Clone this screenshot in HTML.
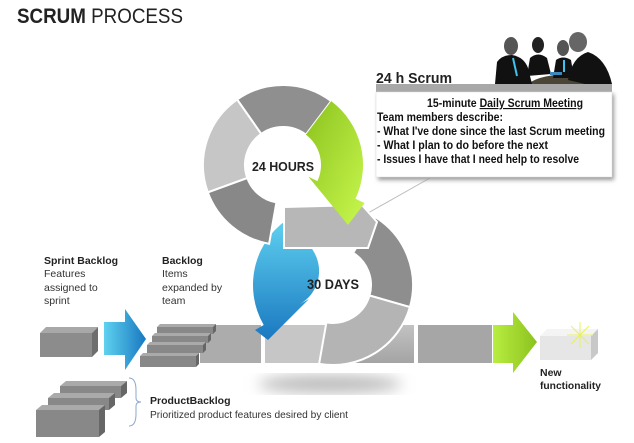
<!DOCTYPE html>
<html><head><meta charset="utf-8"><style>
html,body{margin:0;padding:0;background:#fff;width:634px;height:443px;overflow:hidden}
svg{display:block}
text{font-family:"Liberation Sans",sans-serif}
</style></head><body>
<svg width="634" height="443" viewBox="0 0 634 443" xmlns="http://www.w3.org/2000/svg">
<defs>
<linearGradient id="gG" x1="0" y1="0" x2="1" y2="1"><stop offset="0" stop-color="#8cc21e"/><stop offset="1" stop-color="#c8f84e"/></linearGradient>
<linearGradient id="gG2" x1="0" y1="0" x2="1" y2="0"><stop offset="0" stop-color="#b8ee40"/><stop offset="1" stop-color="#8cc21e"/></linearGradient>
<linearGradient id="gB" x1="0" y1="0" x2="0" y2="1"><stop offset="0" stop-color="#62d4f2"/><stop offset="1" stop-color="#1a78c0"/></linearGradient>
<linearGradient id="gB2" x1="0" y1="0" x2="1" y2="0"><stop offset="0" stop-color="#5fd2f0"/><stop offset="1" stop-color="#1878c0"/></linearGradient>
<linearGradient id="gBar" x1="0" y1="0" x2="0" y2="1"><stop offset="0" stop-color="#c2c2c2"/><stop offset="1" stop-color="#a4a4a4"/></linearGradient>
<filter id="bl"><feGaussianBlur stdDeviation="7"/></filter>
<filter id="sh"><feGaussianBlur stdDeviation="2"/></filter>
</defs>

<text x="17" y="23" font-size="21" fill="#222" textLength="166" lengthAdjust="spacingAndGlyphs"><tspan font-weight="bold">SCRUM</tspan> PROCESS</text>

<ellipse cx="330" cy="384" rx="72" ry="9" fill="#bbb" filter="url(#bl)"/>

<rect x="200" y="325" width="61" height="38" fill="#acacac"/>
<rect x="265" y="325" width="70" height="38" fill="#c6c6c6"/>
<rect x="338" y="325" width="76" height="38" fill="url(#gBar)"/>
<rect x="418" y="325" width="74" height="38" fill="#a6a6a6"/>

<path d="M375.4,217.2 A80,80 0 0 1 409.9,307.1 L369.5,295.5 A38,38 0 0 0 353.1,252.8 Z" fill="#8e8e8e" stroke="#fff" stroke-width="2"/>
<path d="M409.9,307.1 A80,80 0 0 1 319.1,363.8 L326.4,322.4 A38,38 0 0 0 369.5,295.5 Z" fill="#b4b4b4" stroke="#fff" stroke-width="2"/>
<path d="M293,215.7 A80,80 0 0 0 263.7,325 L255,330 L268,340 L309,299 L300.1,304 A38,38 0 0 0 314,252.1 Z" fill="url(#gB)"/>

<path d="M237.1,99.5 A80,80 0 0 1 331.2,101.1 L305.9,134.6 A38,38 0 0 0 261.2,133.9 Z" fill="#8f8f8f" stroke="#fff" stroke-width="2"/>
<path d="M207.8,192.4 A80,80 0 0 1 237.1,99.5 L261.2,133.9 A38,38 0 0 0 247.3,178 Z" fill="#c6c6c6" stroke="#fff" stroke-width="2"/>
<path d="M269.1,243.8 A80,80 0 0 1 207.8,192.4 L247.3,178 A38,38 0 0 0 276.4,202.4 Z" fill="#888" stroke="#fff" stroke-width="2"/>

<line x1="430" y1="178" x2="368" y2="213" stroke="#bbb" stroke-width="1"/>
<polygon points="284,207 362,205 377,222 368,248 284,248" fill="#b7b7b7" stroke="#fff" stroke-width="2"/>
<path d="M331.2,101.1 A80,80 0 0 1 355.5,198.8 L364.6,203.1 L348,225 L308.4,176.8 L317.4,181.1 A38,38 0 0 0 305.9,134.6 Z" fill="url(#gG)"/>

<text x="283" y="171" font-size="13" font-weight="bold" fill="#222" text-anchor="middle" textLength="62" lengthAdjust="spacingAndGlyphs">24 HOURS</text>
<text x="333" y="289" font-size="14" font-weight="bold" fill="#222" text-anchor="middle" textLength="52" lengthAdjust="spacingAndGlyphs">30 DAYS</text>

<polygon points="40,333 46,327 98,327 92,333" fill="#a8a8a8"/>
<rect x="40" y="333" width="52" height="24" fill="#8c8c8c"/>
<polygon points="92,333 98,327 98,351 92,357" fill="#6e6e6e"/>

<polygon points="104,322 125,322 125,309 146,339 125,370 125,355 104,355" fill="url(#gB2)"/>

<g>
<polygon points="157,327 160,324 216,324 213,327" fill="#aaa"/><rect x="157" y="327" width="56" height="7" fill="#888"/><polygon points="213,327 216,324 216,331 213,334" fill="#666"/>
<polygon points="152,336 155,333 211,333 208,336" fill="#aaa"/><rect x="152" y="336" width="56" height="7" fill="#888"/><polygon points="208,336 211,333 211,340 208,343" fill="#666"/>
<polygon points="147,345 150,342 206,342 203,345" fill="#aaa"/><rect x="147" y="345" width="56" height="8" fill="#888"/><polygon points="203,345 206,342 206,350 203,353" fill="#666"/>
<polygon points="140,356 143,353 199,353 196,356" fill="#aaa"/><rect x="140" y="356" width="56" height="11" fill="#888"/><polygon points="196,356 199,353 199,364 196,367" fill="#666"/>
</g>

<g>
<polygon points="60,386 66,381 127,381 121,386" fill="#aaa"/><rect x="60" y="386" width="61" height="12" fill="#888"/><polygon points="121,386 127,381 127,393 121,398" fill="#666"/>
<polygon points="48,398 54,393 115,393 109,398" fill="#aaa"/><rect x="48" y="398" width="61" height="12" fill="#888"/><polygon points="109,398 115,393 115,405 109,410" fill="#666"/>
<polygon points="36,410 42,405 105,405 99,410" fill="#aaa"/><rect x="36" y="410" width="63" height="27" fill="#888"/><polygon points="99,410 105,405 105,432 99,437" fill="#666"/>
</g>
<path d="M129,378 Q136,378 136,390 L136,398 Q136,402 141,402 Q136,402 136,406 L136,414 Q136,426 129,426" fill="none" stroke="#8aa8cc" stroke-width="1"/>

<polygon points="493,325 513,325 513,312 537,342 513,373 513,363 493,363" fill="url(#gG2)"/>
<polygon points="540,336 547,329 598,329 591,336" fill="#f4f4f4"/>
<rect x="540" y="336" width="51" height="24" fill="#e6e6e6"/>
<polygon points="591,336 598,329 598,353 591,360" fill="#c8c8c8"/>
<g stroke="#e8f060" stroke-width="1">
<line x1="580" y1="322" x2="580" y2="348"/><line x1="567" y1="335" x2="593" y2="335"/>
<line x1="571" y1="326" x2="589" y2="344"/><line x1="589" y1="326" x2="571" y2="344"/>
</g>

<g font-size="10.5" fill="#333">
<text x="44" y="264" font-weight="bold" fill="#222">Sprint Backlog</text>
<text x="44" y="277">Features</text>
<text x="44" y="291">assigned to</text>
<text x="44" y="304">sprint</text>
<text x="162" y="264" font-weight="bold" fill="#222">Backlog</text>
<text x="162" y="277">Items</text>
<text x="162" y="291">expanded by</text>
<text x="162" y="304">team</text>
<text x="150" y="404" font-weight="bold" fill="#222">ProductBacklog</text>
<text x="150" y="418" textLength="198" lengthAdjust="spacingAndGlyphs">Prioritized product features desired by client</text>
<text x="540" y="376" font-weight="bold" fill="#222">New</text>
<text x="540" y="389" font-weight="bold" fill="#222" textLength="61" lengthAdjust="spacingAndGlyphs">functionality</text>
</g>

<!-- people -->
<g>
<path d="M528,84 Q540,74 575,74 Q600,75 612,84 Z" fill="#4a4536"/>
<ellipse cx="511" cy="46" rx="7" ry="9" fill="#555"/><path d="M495,84 L497,62 Q502,55 512,55 Q524,57 528,68 L532,84 Z" fill="#111"/>
<line x1="513" y1="58" x2="517" y2="76" stroke="#3fc4ee" stroke-width="2"/>
<ellipse cx="538" cy="45" rx="6" ry="8" fill="#222"/><path d="M527,76 L530,58 Q538,51 547,58 L551,74 Z" fill="#111"/>
<ellipse cx="563" cy="48" rx="6" ry="8" fill="#555"/><path d="M553,78 L556,60 Q563,55 571,60 L574,78 Z" fill="#111"/>
<line x1="564" y1="60" x2="564" y2="72" stroke="#3fc4ee" stroke-width="2"/>
<ellipse cx="578" cy="42" rx="9" ry="10" fill="#666"/><path d="M568,80 Q572,57 588,52 Q606,58 612,84 L585,84 Z" fill="#111"/>
<rect x="550" y="72" width="12" height="3" fill="#3a8ac0"/>
</g>

<text x="376" y="83" font-size="15" font-weight="bold" fill="#222" textLength="76" lengthAdjust="spacingAndGlyphs">24 h Scrum</text>
<rect x="378" y="94" width="236" height="86" fill="#999" filter="url(#sh)"/>
<rect x="376" y="84" width="236" height="8" fill="#a8a8a8"/>
<rect x="376" y="92" width="236" height="85" fill="#fff" stroke="#ddd" stroke-width="0.5"/>
<g font-size="11.5" font-weight="bold" fill="#111">
<text x="427" y="107" textLength="156" lengthAdjust="spacingAndGlyphs">15-minute <tspan text-decoration="underline">Daily Scrum Meeting</tspan></text>
<text x="377" y="121" textLength="126" lengthAdjust="spacingAndGlyphs">Team members describe:</text>
<text x="377" y="135" textLength="228" lengthAdjust="spacingAndGlyphs">- What I've done since the last Scrum meeting</text>
<text x="377" y="149" textLength="171" lengthAdjust="spacingAndGlyphs">- What I plan to do before the next</text>
<text x="377" y="163" textLength="202" lengthAdjust="spacingAndGlyphs">- Issues I have that I need help to resolve</text>
</g>
</svg>
</body></html>
